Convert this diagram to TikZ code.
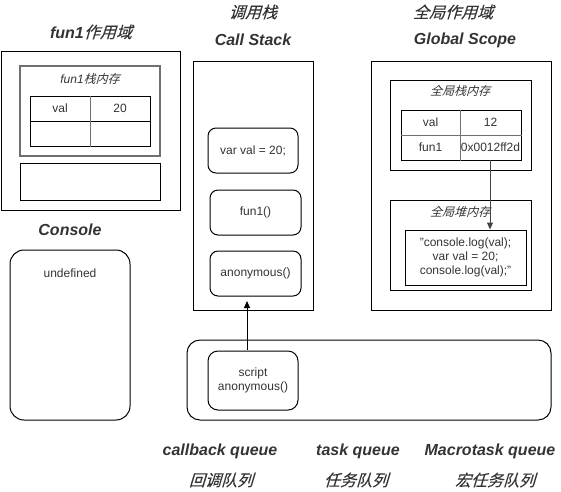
\documentclass[tikz,border=0pt]{standalone}
\usepackage{fontspec}
\setmainfont{Liberation Sans}
\newfontfamily\cjkit[FakeSlant=0.3,FakeBold=0.15]{Noto Sans CJK SC}
\newfontfamily\cjksm[FakeSlant=0.3]{Noto Sans CJK SC}
\usetikzlibrary{arrows.meta}
\definecolor{txt}{HTML}{333333}
\definecolor{gline}{HTML}{707070}
\tikzset{
  box/.style={draw=black, line width=1pt, inner sep=0pt},
  gbox/.style={draw=gline, line width=1.3pt, inner sep=0pt},
  rbox/.style={draw=black, line width=1pt, rounded corners=8pt, inner sep=0pt, align=center, text=txt, font=\fontsize{12}{14}\selectfont},
  cell/.style={draw=black, line width=1pt, inner sep=0pt, text=txt, font=\fontsize{12}{14}\selectfont},
  plain/.style={inner sep=0pt, text=txt, font=\fontsize{12}{14}\selectfont, align=center},
  title/.style={inner sep=0pt, text=txt, font=\fontsize{16}{19}\selectfont\bfseries\itshape},
  ctitle/.style={inner sep=0pt, text=txt, font=\fontsize{16}{19}\selectfont\cjkit},
  sublabel/.style={inner sep=0pt, text=txt, font=\fontsize{12}{14}\selectfont\itshape},
  arr/.style={draw=black, line width=1pt, -{Triangle[length=7pt,width=6pt]}},
}
\begin{document}
\begin{tikzpicture}[x=1pt,y=-1pt]
\useasboundingbox (0,0) rectangle (561,491);
% ---------- fun1 scope ----------
\node[title] (t1) at (91,32) {fun1\cjkit\mdseries 作用域};
\node[box, minimum width=179pt, minimum height=159pt] (fscope) at (90.5,130.5) {};
\node[gbox, minimum width=140pt, minimum height=90pt] (fstack) at (90,111) {};
\node[sublabel] (fstacklbl) at (90,79) {fun1\cjksm 栈内存};
\node[cell, minimum width=60pt, minimum height=25pt] (fa1) at (60,108.5) {val};
\node[cell, minimum width=60pt, minimum height=25pt] (fa2) at (120,108.5) {20};
\node[cell, minimum width=60pt, minimum height=25pt] (fb1) at (60,133.5) {};
\node[cell, minimum width=60pt, minimum height=25pt] (fb2) at (120,133.5) {};
\draw[gline, line width=1.3pt] (fa1.north east) -- (fb1.south east);
\node[box, minimum width=140pt, minimum height=37pt] (fbox2) at (90,181.5) {};
% ---------- Call stack ----------
\node[ctitle] (t2a) at (253,12) {调用栈};
\node[title] (t2b) at (253,40) {Call Stack};
\node[box, minimum width=120pt, minimum height=249pt] (cstack) at (253,185.5) {};
\node[rbox, minimum width=90pt, minimum height=45pt] (s1) at (253,150.5) {var val = 20;};
\node[rbox, minimum width=91pt, minimum height=45pt] (s2) at (255.5,212.5) {fun1()};
\node[rbox, minimum width=91pt, minimum height=45pt] (s3) at (255.5,273.5) {anonymous()};
% ---------- Global scope ----------
\node[ctitle] (t3a) at (453,12) {全局作用域};
\node[title] (t3b) at (465,40) {Global Scope};
\node[box, minimum width=180pt, minimum height=249pt] (gscope) at (461,185.5) {};
\node[box, minimum width=141pt, minimum height=90pt] (gstack) at (460.5,125) {};
\node[sublabel] (gstacklbl) at (460,91) {\cjksm 全局栈内存};
\node[cell, minimum width=59pt, minimum height=25pt] (ga1) at (430.5,122.5) {val};
\node[cell, minimum width=61pt, minimum height=25pt] (ga2) at (490.5,122.5) {12};
\node[cell, minimum width=59pt, minimum height=25pt] (gb1) at (430.5,147.5) {fun1};
\node[cell, minimum width=61pt, minimum height=25pt] (gb2) at (490.5,147.5) {0x0012ff2d};
\draw[gline, line width=1.3pt] (ga1.north east) -- (gb1.south east);
\draw[gline, line width=1.3pt] (ga1.south west) -- (ga2.south east);
\node[box, minimum width=141pt, minimum height=90pt] (gheap) at (460.5,245) {};
\node[sublabel] (gheaplbl) at (460,212) {\cjksm 全局堆内存};
\node[box, minimum width=121pt, minimum height=55pt, align=center, text=txt, font=\fontsize{12}{14}\selectfont] (code) at (465.5,257.5) {"console.log(val);\\var val = 20;\\console.log(val);"};
\coordinate (ptr) at (490,160);
\draw[arr, draw=gline!60!black] (ptr) -- (490,229.5) coordinate (ptrend);
% ---------- Console ----------
\node[title] (t4) at (70,230) {Console};
\node[rbox, rounded corners=14pt, minimum width=120pt, minimum height=170pt] (console) at (70,335) {};
\node[plain] (undef) at (70,273) {undefined};
% ---------- Queue ----------
\node[rbox, rounded corners=13pt, minimum width=364pt, minimum height=80pt] (queue) at (369,380) {};
\node[rbox, rounded corners=10pt, minimum width=90pt, minimum height=59pt] (script) at (253,380.5) {script\\anonymous()};
\coordinate (sarrs) at (247,350);
\coordinate (sarre) at (247,301);
\draw[arr] (sarrs) -- (sarre);
% ---------- bottom labels ----------
\node[title] (q1) at (220,451) {callback queue};
\node[title] (q2) at (358,451) {task queue};
\node[title] (q3) at (490,451) {Macrotask queue};
\node[ctitle] (c1) at (221,480) {回调队列};
\node[ctitle] (c2) at (356,480) {任务队列};
\node[ctitle] (c3) at (495,480) {宏任务队列};
\end{tikzpicture}
\end{document}
